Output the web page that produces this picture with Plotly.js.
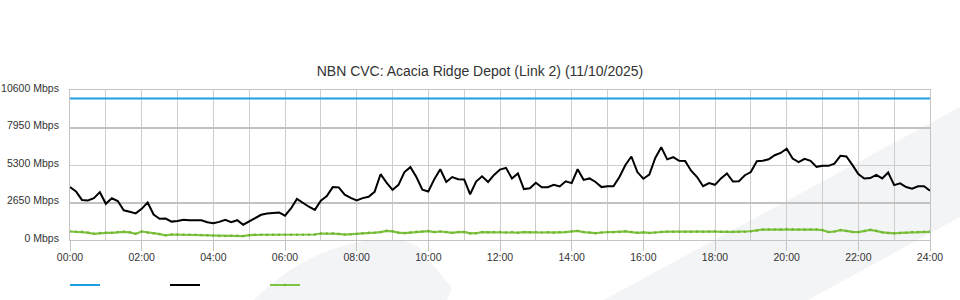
<!DOCTYPE html>
<html>
<head>
<meta charset="utf-8">
<script src="https://cdn.plot.ly/plotly-3.0.1.min.js"></script>
<style>
html,body{margin:0;padding:0;background:#fff;}
#chart{width:960px;height:300px;}
</style>
</head>
<body>
<div id="chart"></div>
<script>
// ---- data (10-minute samples, Mbps) ----
const sampleMinutes = 10;
const download = [
  3740, 3430, 2830, 2800, 2950, 3380, 2560, 2950, 2750, 2100, 1990, 1880, 2200, 2650, 1800, 1500, 1520, 1300, 1350, 1430, 1400, 1400, 1400, 1250,
  1190, 1280, 1420, 1260, 1400, 1080, 1300, 1500, 1780, 1870, 1900, 1950, 1720, 2230, 2900, 2600, 2350, 2130, 2780, 3100, 3740, 3720, 3200, 2980,
  2800, 2960, 3050, 3400, 4650, 4050, 3540, 3900, 4800, 5150, 4450, 3550, 3430, 4300, 5000, 4100, 4450, 4300, 4280, 3230, 4130, 4500, 4100, 4600,
  4980, 5100, 4350, 4700, 3600, 3650, 4050, 3730, 3730, 3900, 3780, 4150, 4020, 5000, 4250, 4350, 4100, 3740, 3800, 3800, 4450, 5300, 5900, 4800,
  4330, 4620, 5800, 6550, 5700, 5850, 5600, 5580, 4900, 4450, 3800, 4020, 3900, 4350, 4700, 4130, 4150, 4580, 4800, 5570, 5600, 5700, 5990, 6150,
  6450, 5750, 5500, 5740, 5600, 5170, 5240, 5240, 5400, 5950, 5900, 5310, 4660, 4350, 4380, 4600, 4350, 4770, 3880, 4000, 3740, 3620, 3800, 3800, 3480
];
const upload = [
  600, 590, 580, 520, 440, 500, 510, 510, 570, 580, 540, 440, 600, 520, 480, 420, 330, 390, 380, 370, 370, 370, 360, 330,
  300, 290, 290, 300, 300, 280, 340, 370, 370, 370, 370, 370, 370, 370, 370, 370, 370, 390, 460, 460, 470, 430, 380, 400,
  420, 480, 510, 520, 560, 650, 610, 520, 490, 530, 590, 600, 630, 560, 600, 560, 510, 560, 570, 470, 480, 560, 550, 570,
  560, 530, 560, 520, 560, 540, 560, 530, 540, 520, 540, 560, 620, 640, 560, 530, 480, 530, 560, 540, 570, 610, 560, 510,
  540, 500, 530, 580, 590, 590, 580, 580, 590, 600, 590, 600, 610, 590, 580, 580, 590, 590, 620, 680, 740, 740, 740, 750,
  780, 760, 750, 750, 750, 740, 700, 560, 600, 700, 640, 570, 560, 640, 720, 640, 540, 500, 470, 500, 520, 560, 560, 590, 580
];
const capacityHours = [0, 24];
const capacity = [10000, 10000];
const xTickVals = [0, 2, 4, 6, 8, 10, 12, 14, 16, 18, 20, 22, 24];
const xTickText = ['00:00','02:00','04:00','06:00','08:00','10:00','12:00','14:00','16:00','18:00','20:00','22:00','24:00'];
const yTickVals = [0, 2650, 5300, 7950, 10600];
const yTickText = ['0 Mbps','2650 Mbps','5300 Mbps','7950 Mbps','10600 Mbps'];
const yStrongGrid = [2650, 7950];
const chartTitle = 'NBN CVC: Acacia Ridge Depot (Link 2) (11/10/2025)';

// ---- build ----
const hours = download.map((_, i) => i * sampleMinutes / 60);
const FONT = 'Liberation Sans, Arial, Helvetica, sans-serif';

// plot area in pixels: x 70..930, y 90..240
function pp(px, py) { return ((px - 70) / 860).toFixed(4) + ',' + ((240 - py) / 150).toFixed(4); }
const bandPath = 'M' + pp(600, 302) + ' L' + pp(962, 106) + ' L' + pp(962, 216) + ' L' + pp(804, 302) + ' Z';
const blobPath = 'M' + pp(252, 302) + ' C' + pp(290, 262) + ' ' + pp(340, 240) + ' ' + pp(384, 240) +
  ' C' + pp(404, 240) + ' ' + pp(413, 242) + ' ' + pp(420, 249) + ' L' + pp(452, 288) + ' L' + pp(446, 302) + ' Z';

const traces = [
  { x: capacityHours, y: capacity, type: 'scatter', mode: 'lines', name: '', yaxis: 'y2',
    line: { color: '#1ea0e0', width: 2 }, hoverinfo: 'y' },
  { x: hours, y: download, type: 'scatter', mode: 'lines', name: '',
    line: { color: '#000000', width: 2 }, hoverinfo: 'x+y' },
  { x: hours, y: upload, type: 'scatter', mode: 'lines+markers', name: '',
    line: { color: '#80c341', width: 2.2 }, marker: { size: 2.5, color: '#6eb534' }, hoverinfo: 'x+y' }
];

const layout = {
  width: 960, height: 300,
  margin: { l: 70, r: 30, t: 90, b: 60, pad: 0, autoexpand: false },
  paper_bgcolor: '#ffffff',
  plot_bgcolor: 'rgba(0,0,0,0)',
  font: { family: FONT, size: 10.5, color: '#333333' },
  title: { text: chartTitle, font: { family: FONT, size: 14, color: '#333333' },
           x: 0.5, xref: 'container', xanchor: 'center', y: 1 - 71 / 300, yref: 'container', yanchor: 'middle' },
  showlegend: true,
  legend: { orientation: 'h', x: -5 / 860, xanchor: 'left', y: 15 / 300, yref: 'container', yanchor: 'middle',
            entrywidth: 55, entrywidthmode: 'pixels', itemwidth: 30,
            bgcolor: 'rgba(0,0,0,0)', font: { size: 11 } },
  xaxis: {
    range: [0, 24], tickmode: 'array', tickvals: xTickVals, ticktext: xTickText,
    ticks: 'outside', ticklen: 10, tickcolor: '#c4c4c4', tickwidth: 1,
    showgrid: true, gridcolor: '#cdcdcd', gridwidth: 1,
    minor: { dtick: 1, tick0: 0, showgrid: true, gridcolor: '#cdcdcd', gridwidth: 1, ticks: '' },
    showline: true, linecolor: '#c4c4c4', linewidth: 1, mirror: true,
    zeroline: false, fixedrange: true, automargin: false, ticklabelstandoff: -3,
    tickfont: { size: 10.5, color: '#333333' }
  },
  yaxis: {
    range: [0, 10600], tickmode: 'array', tickvals: yTickVals, ticktext: yTickText,
    ticks: '', showgrid: true, gridcolor: '#cdcdcd', gridwidth: 1,
    showline: true, linecolor: '#c4c4c4', linewidth: 1, mirror: true,
    zeroline: false, fixedrange: true, automargin: false, ticklabelstandoff: 8, ticklabelshift: -2,
    tickfont: { size: 10.5, color: '#333333' }
  },
  yaxis2: {
    overlaying: 'y', matches: 'y', side: 'left', range: [0, 10600],
    tickmode: 'array', tickvals: yStrongGrid, showticklabels: false, ticks: '',
    showgrid: true, gridcolor: '#c2c2c2', gridwidth: 2, zeroline: false, showline: false, fixedrange: true
  },
  shapes: [
    { type: 'path', xref: 'paper', yref: 'paper', path: bandPath, fillcolor: '#f3f4f6', line: { width: 0 }, layer: 'below' },
    { type: 'path', xref: 'paper', yref: 'paper', path: blobPath, fillcolor: '#f3f4f6', line: { width: 0 }, layer: 'below' }
  ]
};

Plotly.newPlot('chart', traces, layout, { displayModeBar: false, staticPlot: true });
</script>
</body>
</html>
